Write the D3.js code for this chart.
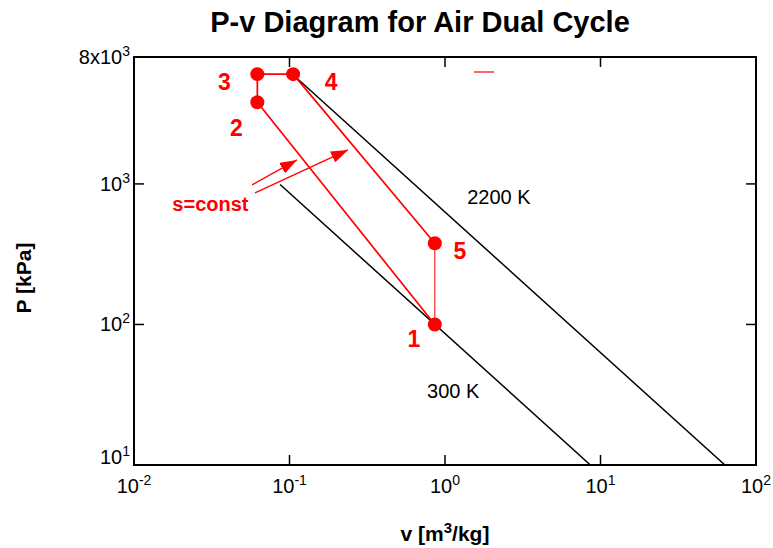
<!DOCTYPE html>
<html>
<head>
<meta charset="utf-8">
<script src="https://cdn.jsdelivr.net/npm/d3@7"></script>
<style>
  html, body { margin: 0; padding: 0; background: #fff; }
  svg { display: block; font-family: "Liberation Sans", Arial, Helvetica, sans-serif; }
</style>
</head>
<body>
<svg id="chart" width="773" height="548"></svg>
<script>
// Cycle state points 1..5 (specific volume m3/kg, pressure kPa)
const stateNames = ["1", "2", "3", "4", "5"];
const stateV = [0.86, 0.0621, 0.0621, 0.1055, 0.86];
const stateP = [100, 3810, 6040, 6040, 378];

// Isotherms drawn as straight lines on log-log axes (endpoints)
const isoNames = ["300 K", "2200 K"];
const isoV = [[0.087, 8.61], [0.1, 63.1]];
const isoP = [[990, 10], [6310, 10]];
// Isotherm label anchor points
const isoLabelV = [1.13, 2.22];
const isoLabelP = [33.6, 807];

// "s=const" annotation: text anchor and two arrows (tail -> head)
const sLabelV = 0.031, sLabelP = 715;
const arrowTailV = [0.0574, 0.060];
const arrowTailP = [984, 863];
const arrowHeadV = [0.1117, 0.2378];
const arrowHeadP = [1482, 1746];

// Axis ticks
const xTickVals = [0.01, 0.1, 1, 10, 100];
const xTickExp = ["-2", "-1", "0", "1", "2"];
const yTickVals = [10, 100, 1000, 8000];
const yTickMant = ["10", "10", "10", "8x10"];
const yTickExp = ["1", "2", "3", "3"];

const W = 773, H = 548;
const margin = {top: 57, right: 17, bottom: 83, left: 134};
const svg = d3.select("#chart");

const x = d3.scaleLog().domain([0.01, 100]).range([margin.left, W - margin.right]);
const y = d3.scaleLog().domain([10, 8000]).range([H - margin.bottom, margin.top]);

const red = "#ff0000";

// Title
svg.append("text")
  .attr("x", 420).attr("y", 32)
  .attr("text-anchor", "middle")
  .attr("font-size", 29).attr("font-weight", "bold")
  .text("P-v Diagram for Air Dual Cycle");

// Clip to the plot frame
svg.append("clipPath").attr("id", "plotclip")
  .append("rect")
  .attr("x", margin.left).attr("y", margin.top)
  .attr("width", W - margin.left - margin.right)
  .attr("height", H - margin.top - margin.bottom);

const plot = svg.append("g").attr("clip-path", "url(#plotclip)");
const line = d3.line().x(d => x(d[0])).y(d => y(d[1]));

// Isotherms
isoV.forEach((vs, i) => {
  plot.append("path")
    .attr("d", line(vs.map((v, j) => [v, isoP[i][j]])))
    .attr("fill", "none").attr("stroke", "#000").attr("stroke-width", 1.5);
});

// Cycle processes: 1-2 isentropic, 2-3 const v, 3-4 const P, 4-5 isentropic, 5-1 const v
const segs = [[0, 1, 1.7], [1, 2, 1.7], [2, 3, 1.7], [3, 4, 1.7], [4, 0, 1.0]];
segs.forEach(([a, b, w]) => {
  plot.append("path")
    .attr("d", line([[stateV[a], stateP[a]], [stateV[b], stateP[b]]]))
    .attr("fill", "none").attr("stroke", red).attr("stroke-width", w);
});

// State markers
plot.selectAll("circle.state")
  .data(stateV.map((v, i) => [v, stateP[i]]))
  .join("circle")
  .attr("class", "state")
  .attr("cx", d => x(d[0])).attr("cy", d => y(d[1]))
  .attr("r", 7).attr("fill", red);

// State number labels (pixel offsets from each marker)
const labelDx = [-21, -21, -33, 38, 25];
const labelDy = [23, 34, 16, 16, 16];
stateNames.forEach((n, i) => {
  svg.append("text")
    .attr("x", x(stateV[i]) + labelDx[i])
    .attr("y", y(stateP[i]) + labelDy[i])
    .attr("text-anchor", "middle")
    .attr("font-size", 23).attr("font-weight", "bold")
    .attr("fill", red)
    .text(n);
});

// Isotherm labels
isoNames.forEach((n, i) => {
  svg.append("text")
    .attr("x", x(isoLabelV[i])).attr("y", y(isoLabelP[i]) + 7)
    .attr("text-anchor", "middle")
    .attr("font-size", 20)
    .text(n);
});

// s=const label and arrows
svg.append("defs").append("marker")
  .attr("id", "arrowhead")
  .attr("markerUnits", "userSpaceOnUse")
  .attr("viewBox", "0 0 17 12")
  .attr("refX", 17).attr("refY", 6)
  .attr("markerWidth", 17).attr("markerHeight", 12)
  .attr("orient", "auto")
  .append("path").attr("d", "M0,0 L17,6 L0,12 Z").attr("fill", red);

arrowTailV.forEach((v, i) => {
  svg.append("line")
    .attr("x1", x(v)).attr("y1", y(arrowTailP[i]))
    .attr("x2", x(arrowHeadV[i])).attr("y2", y(arrowHeadP[i]))
    .attr("stroke", red).attr("stroke-width", 1.3)
    .attr("marker-end", "url(#arrowhead)");
});

svg.append("text")
  .attr("x", x(sLabelV)).attr("y", y(sLabelP) + 7)
  .attr("text-anchor", "middle")
  .attr("font-size", 20).attr("font-weight", "bold")
  .attr("fill", red)
  .text("s=const");

// Small legend stroke
svg.append("line")
  .attr("x1", 474).attr("x2", 494).attr("y1", 72).attr("y2", 72)
  .attr("stroke", red).attr("stroke-opacity", 0.6).attr("stroke-width", 2);

// Frame
svg.append("rect")
  .attr("x", margin.left).attr("y", margin.top)
  .attr("width", W - margin.left - margin.right)
  .attr("height", H - margin.top - margin.bottom)
  .attr("fill", "none").attr("stroke", "#000").attr("stroke-width", 2);

// Inward ticks on all four sides
const tickLen = 10;
const innerX = xTickVals.slice(1, -1);
const innerY = [100, 1000];
const ticks = svg.append("g").attr("stroke", "#000").attr("stroke-width", 1.5);
innerX.forEach(v => {
  ticks.append("line").attr("x1", x(v)).attr("x2", x(v))
    .attr("y1", y.range()[0]).attr("y2", y.range()[0] - tickLen);
  ticks.append("line").attr("x1", x(v)).attr("x2", x(v))
    .attr("y1", y.range()[1]).attr("y2", y.range()[1] + tickLen);
});
innerY.forEach(p => {
  ticks.append("line").attr("y1", y(p)).attr("y2", y(p))
    .attr("x1", x.range()[0]).attr("x2", x.range()[0] + tickLen);
  ticks.append("line").attr("y1", y(p)).attr("y2", y(p))
    .attr("x1", x.range()[1]).attr("x2", x.range()[1] - tickLen);
});

// X tick labels (powers of ten)
xTickVals.forEach((v, i) => {
  const t = svg.append("text")
    .attr("x", x(v)).attr("y", y.range()[0] + 28)
    .attr("text-anchor", "middle")
    .attr("font-size", 20);
  t.append("tspan").text("10");
  t.append("tspan").attr("dy", -8).attr("font-size", 14).text(xTickExp[i]);
});

// Y tick labels
yTickVals.forEach((p, i) => {
  const shift = (p === 10) ? -1 : 7;
  const t = svg.append("text")
    .attr("x", x.range()[0] - 4).attr("y", y(p) + shift)
    .attr("text-anchor", "end")
    .attr("font-size", 20);
  t.append("tspan").text(yTickMant[i]);
  t.append("tspan").attr("dy", -8).attr("font-size", 14).text(yTickExp[i]);
});

// Axis titles
const xt = svg.append("text")
  .attr("x", (x.range()[0] + x.range()[1]) / 2).attr("y", 541)
  .attr("text-anchor", "middle")
  .attr("font-size", 21).attr("font-weight", "bold");
xt.append("tspan").text("v [m");
xt.append("tspan").attr("dy", -8).attr("font-size", 15).text("3");
xt.append("tspan").attr("dy", 8).text("/kg]");

svg.append("text")
  .attr("transform", "translate(31,278) rotate(-90)")
  .attr("text-anchor", "middle")
  .attr("font-size", 21).attr("font-weight", "bold")
  .text("P [kPa]");
</script>
</body>
</html>
